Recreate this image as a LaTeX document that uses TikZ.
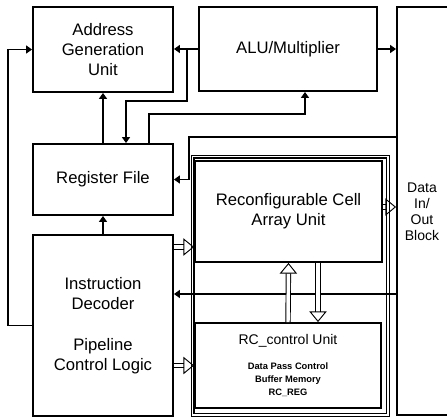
\documentclass[tikz,border=0pt]{standalone}
\usepackage{fontspec}
\setmainfont{Liberation Sans}
\usetikzlibrary{arrows.meta,calc}

\newcommand{\mainf}{\fontsize{12.5}{15}\selectfont}
\newcommand{\midf}{\fontsize{10.5}{12}\selectfont}
\newcommand{\tinyf}{\fontsize{7}{9.75}\selectfont\bfseries}

\begin{document}
\begin{tikzpicture}[x=0.75pt,y=-0.75pt,
  box/.style={draw,line width=1.4pt,align=center,font=\mainf},
  arr/.style={line width=1.2pt,-{Triangle[length=4.5pt,width=6pt]}},
  hol/.style={double,double distance=2.6pt,line width=0.7pt,-{Triangle[open,length=8pt,width=13pt]}},
  grp/.style={double,double distance=1.4pt,line width=0.8pt}
]
\useasboundingbox (0,0) rectangle (447,418);
\clip (0,0) rectangle (447,418);

% reconfigurable part
\draw[grp] (192.5,156.5) rectangle (388,415);

\node[box,minimum width=105pt,minimum height=63.75pt] (agu) at (103,49.5) {Address\\Generation\\Unit};
\node[box,minimum width=133.5pt,minimum height=63pt] (alu) at (288,49) {ALU/Multiplier};
\node[box,minimum width=105pt,minimum height=53.25pt] (rf) at (103,179.5) {Register File};
\node[box,minimum width=105pt,minimum height=135.75pt] (id) at (103,325.5) {Instruction\\Decoder\\[16pt]Pipeline\\Control Logic};
\node[box,minimum width=140.25pt,minimum height=75.75pt] (rca) at (288.5,211.5) {Reconfigurable Cell\\Array Unit};
\node[box,minimum width=139.5pt,minimum height=63.75pt] (rcc) at (288,365.5) {};
\node[font=\midf] (rcct) at (288,341) {RC\_control Unit};
\node[font=\tinyf,align=center] (rccl) at (288,380) {Data Pass Control\\Buffer Memory\\RC\_REG};
\node[box,minimum width=54.75pt,minimum height=306pt] (dio) at (433.5,211) {};
\node[font=\midf,align=center] (diot) at (422,211.5) {Data\\In/\\Out\\Block};

% helper points
\coordinate (j1) at ($(alu.west)+(-11,0)$);
\coordinate (h1) at ($(id.east)+(0,-78.5)$);
\coordinate (h2) at ($(dio.west)+(0,83)$);
\coordinate (h3) at ($(rca.south)+(29.5,0)$);
\coordinate (h4) at ($(rca.east)+(0,-4.5)$);

% control paths
\draw[arr] (id.west) -- ++(-24,0) |- (agu.west);
\draw[arr] (rf.north) -- (agu.south);
\draw[arr] (alu.west) -- (alu.west -| agu.east);
\draw[arr] (j1) -- ++(0,52) -| ($(rf.north)+(23,0)$);
\draw[arr] ($(rf.north)+(46,0)$) -- ++(0,-29) -| ($(alu.south)+(17,0)$);
\draw[arr] (alu.east) -- (alu.east -| dio.west);
\draw[arr] ($(dio.west)+(0,-74)$) -| ($(rf.east)+(15,0)$) -- (rf.east);
\draw[arr] (id.north) -- (rf.south);
\draw[arr] (h2) -- (h2 -| id.east);

% data paths
\draw[hol] (h1) -- (h1 -| rca.west);
\draw[hol] (id.east |- rcc.west) -- (rcc.west);
\draw[hol] (h4) -- (h4 -| dio.west);
\draw[hol] (rcc.north) -- (rca.south);
\draw[hol] (h3) -- (h3 |- rcc.north);
\end{tikzpicture}
\end{document}
